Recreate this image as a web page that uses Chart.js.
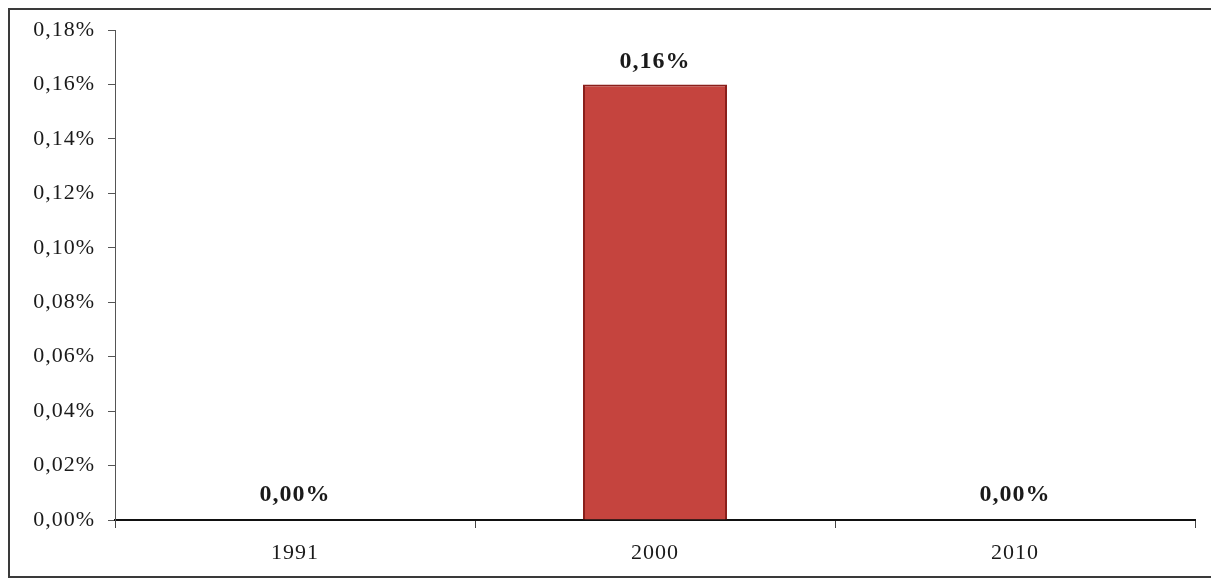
<!DOCTYPE html>
<html>
<head>
<meta charset="utf-8">
<script src="https://cdn.jsdelivr.net/npm/chart.js@4/dist/chart.umd.min.js"></script>
<style>
  html, body { margin: 0; padding: 0; background: #fff; }
  #wrap { position: relative; width: 1211px; height: 586px; }
</style>
</head>
<body>
<div id="wrap"><canvas id="c" width="1211" height="586"></canvas></div>
<script>
// Census years and share values (percent)
const years = ['1991', '2000', '2010'];
const shares = [0, 0.16, 0];
const yTicks = [0, 0.02, 0.04, 0.06, 0.08, 0.10, 0.12, 0.14, 0.16, 0.18];

const fmt = v => v.toFixed(2).replace('.', ',') + '%';
const SERIF = '"Liberation Serif", "DejaVu Serif", serif';

// Outer frame around the chart; also widens letter spacing for all text
const framePlugin = {
  id: 'frame',
  beforeDraw(chart) {
    const ctx = chart.ctx;
    ctx.letterSpacing = '1px';
    ctx.save();
    ctx.strokeStyle = '#3a3a3a';
    ctx.lineWidth = 2;
    ctx.strokeRect(9, 9, 1210, 568);
    ctx.restore();
  }
};

// Value labels above each bar
const valueLabels = {
  id: 'valueLabels',
  afterDatasetsDraw(chart) {
    const ctx = chart.ctx;
    const meta = chart.getDatasetMeta(0);
    ctx.save();
    ctx.font = 'bold 24px ' + SERIF;
    ctx.fillStyle = '#1a1a1a';
    ctx.textAlign = 'center';
    ctx.textBaseline = 'alphabetic';
    meta.data.forEach((bar, i) => {
      const gap = shares[i] > 0 ? 16 : 19;
      ctx.fillText(fmt(shares[i]), bar.x, bar.y - gap);
    });
    ctx.restore();
  }
};

new Chart(document.getElementById('c'), {
  type: 'bar',
  data: {
    labels: years,
    datasets: [{
      data: shares,
      backgroundColor: '#c5443e',
      borderColor: '#8a1f1b',
      borderWidth: 2,
      borderSkipped: 'bottom',
      categoryPercentage: 0.8,
      barPercentage: 0.5
    }]
  },
  options: {
    responsive: false,
    animation: false,
    layout: { padding: { top: 30, right: 16, left: 0, bottom: 0 } },
    plugins: {
      legend: { display: false },
      tooltip: { enabled: false },
      title: { display: false }
    },
    scales: {
      x: {
        grid: {
          offset: true,
          drawOnChartArea: false,
          drawTicks: true,
          tickLength: 8,
          color: '#444'
        },
        border: { display: true, color: '#111', width: 2 },
        ticks: {
          padding: 12,
          color: '#1a1a1a',
          font: { family: SERIF, size: 22 }
        },
        afterFit(scale) { scale.height = 66; }
      },
      y: {
        min: 0,
        max: 0.18,
        afterBuildTicks(scale) { scale.ticks = yTicks.map(v => ({ value: v })); },
        grid: {
          drawOnChartArea: false,
          drawTicks: true,
          tickLength: 7,
          color: '#555'
        },
        border: { display: true, color: '#555', width: 1 },
        ticks: {
          padding: 13,
          color: '#1a1a1a',
          font: { family: SERIF, size: 22 },
          callback: v => fmt(v)
        },
        afterFit(scale) { scale.width = 115; }
      }
    }
  },
  plugins: [framePlugin, valueLabels]
});
</script>
</body>
</html>
